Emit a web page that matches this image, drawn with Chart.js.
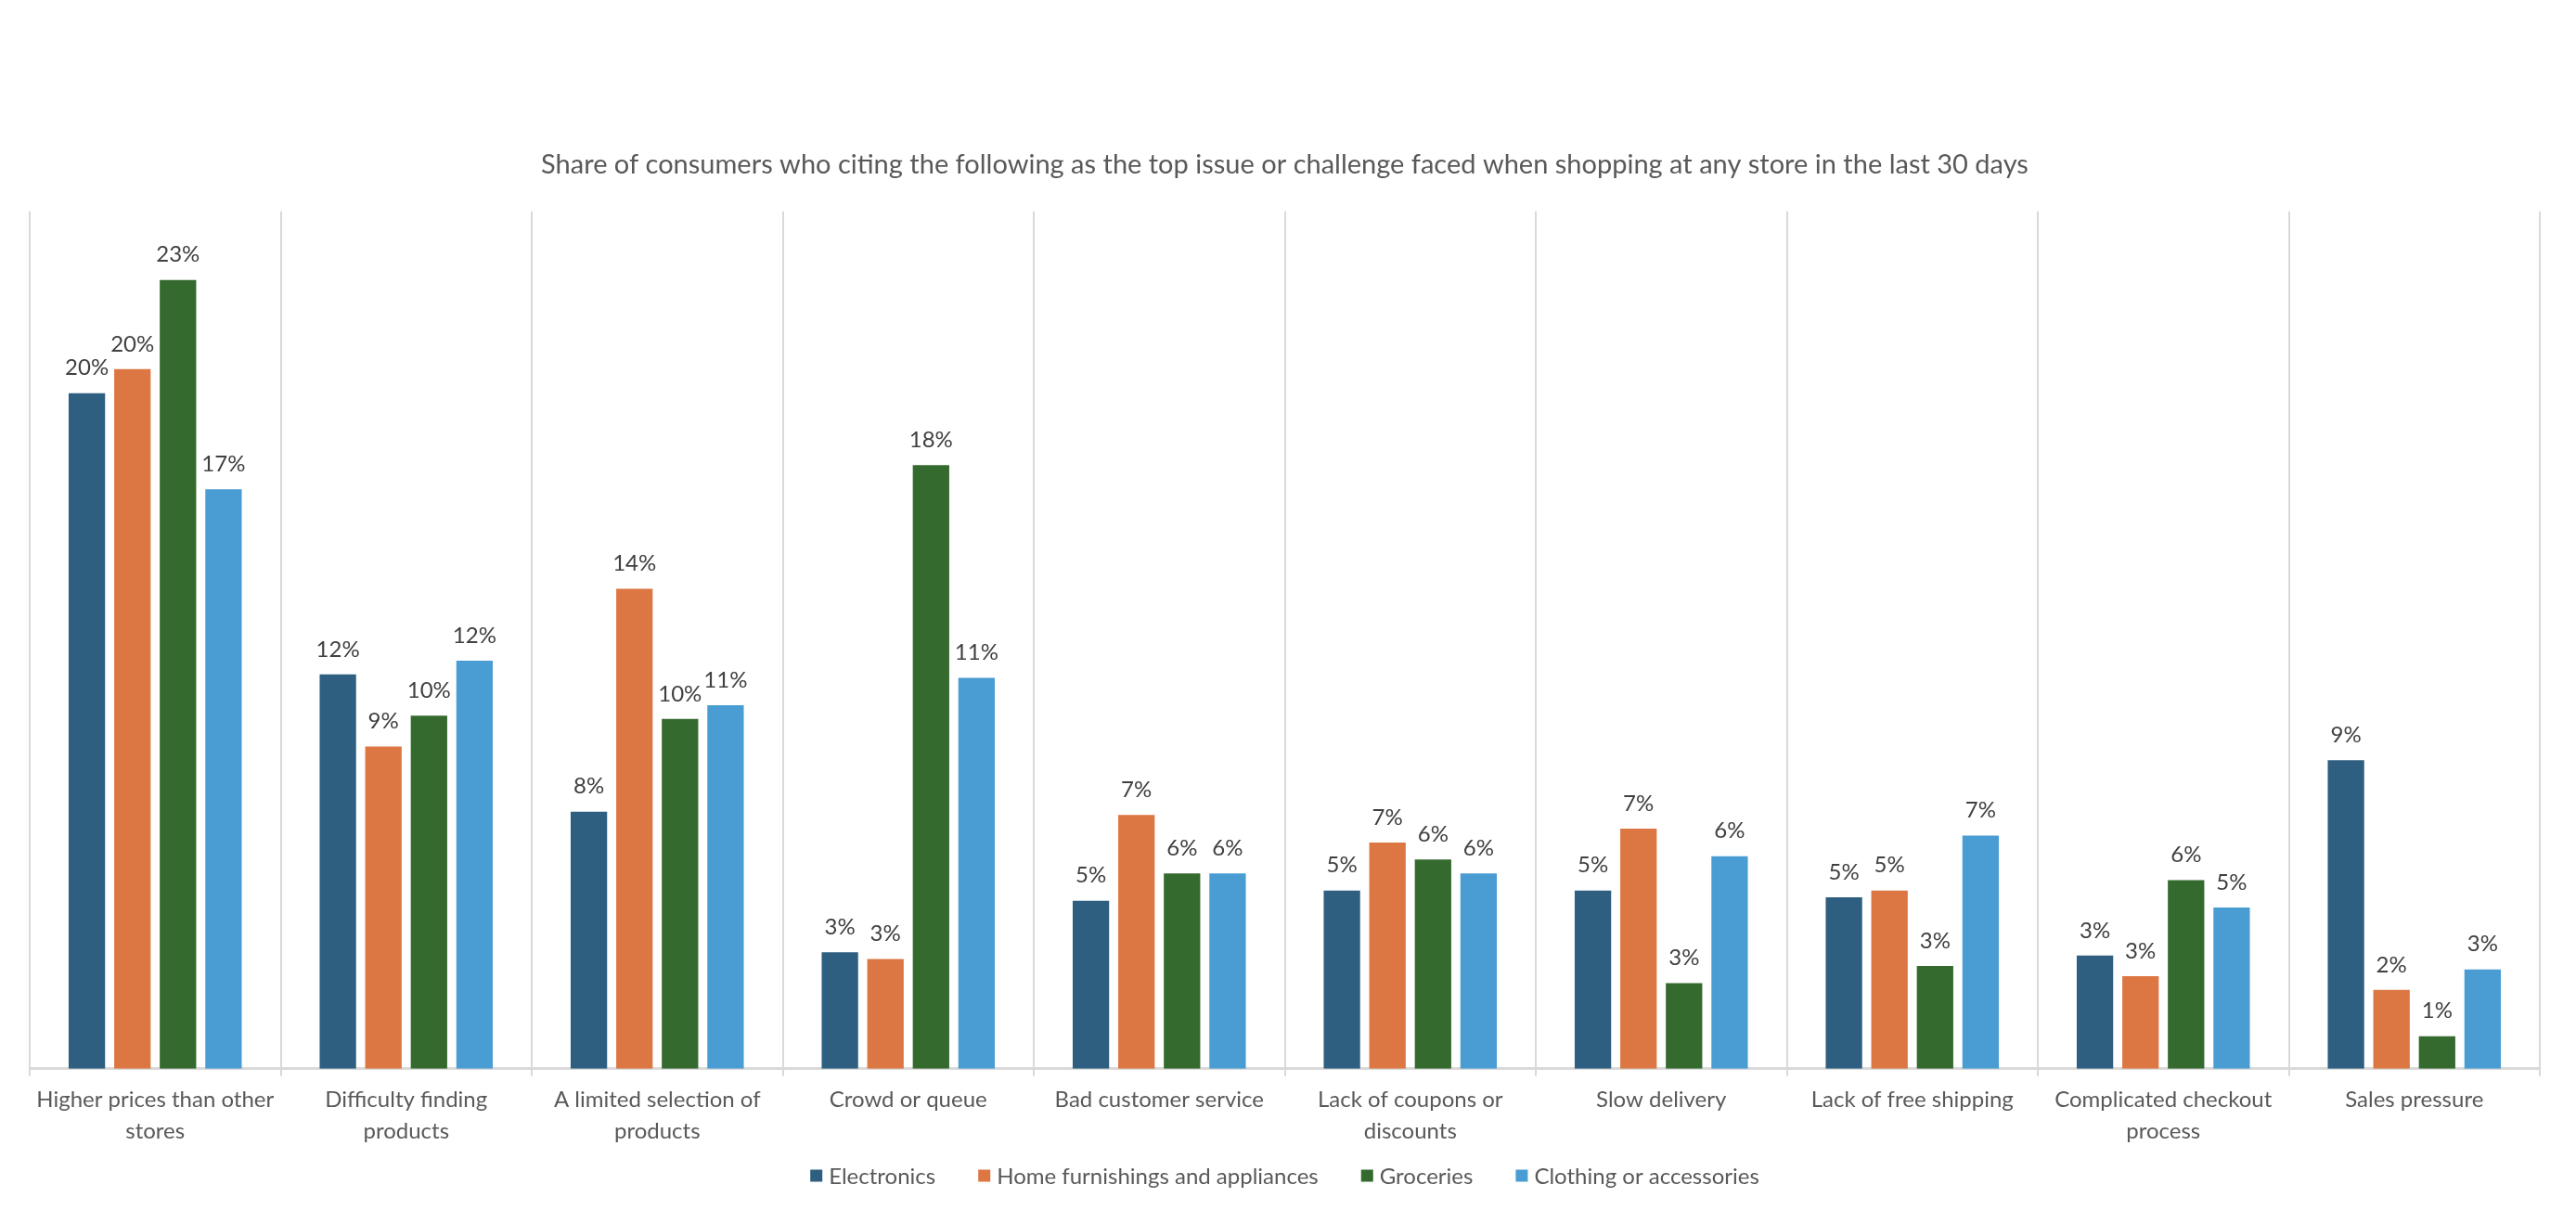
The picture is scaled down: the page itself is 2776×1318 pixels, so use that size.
<!DOCTYPE html>
<html>
<head>
<meta charset="utf-8">
<script src="https://cdn.jsdelivr.net/npm/chart.js@4.4.1/dist/chart.umd.min.js"></script>
<style>
  html, body { margin: 0; padding: 0; background: #ffffff; }
  #wrap { width: 2776px; height: 1318px; }
</style>
</head>
<body>
<div id="wrap"><canvas id="c" width="2776" height="1318"></canvas></div>
<script>
const titleText = "Share of consumers who citing the following as the top issue or challenge faced when shopping at any store in the last 30 days";

const categories = [
  ["Higher prices than other", "stores"],
  ["Difficulty finding", "products"],
  ["A limited selection of", "products"],
  "Crowd or queue",
  "Bad customer service",
  ["Lack of coupons or", "discounts"],
  "Slow delivery",
  "Lack of free shipping",
  ["Complicated checkout", "process"],
  "Sales pressure"
];

const seriesNames = ["Electronics", "Home furnishings and appliances", "Groceries", "Clothing or accessories"];

const electronics = [19.7, 11.5, 7.5, 3.4, 4.9, 5.2, 5.2, 5.0, 3.3, 9.0];
const homeFurnishings = [20.4, 9.4, 14.0, 3.2, 7.4, 6.6, 7.0, 5.2, 2.7, 2.3];
const groceries = [23.0, 10.3, 10.2, 17.6, 5.7, 6.1, 2.5, 3.0, 5.5, 0.95];
const clothing = [16.9, 11.9, 10.6, 11.4, 5.7, 5.7, 6.2, 6.8, 4.7, 2.9];

const seriesColors = ["#2e5f80", "#dc7743", "#356a2f", "#4a9dd3"];

const FONT = "Lato, 'Open Sans', sans-serif";

const dataLabelPlugin = {
  id: 'dataLabels',
  afterDatasetsDraw(chart) {
    const ctx = chart.ctx;
    ctx.save();
    ctx.font = "24px " + FONT;
    ctx.fillStyle = "#404040";
    ctx.textAlign = "center";
    ctx.textBaseline = "middle";
    chart.data.datasets.forEach((ds, i) => {
      const meta = chart.getDatasetMeta(i);
      meta.data.forEach((el, j) => {
        const v = ds.data[j];
        ctx.fillText(Math.round(v) + "%", el.x, el.y - 27);
      });
    });
    ctx.restore();
  }
};

// Legend row drawn below the category axis, centred on the plot area
const legendPlugin = {
  id: 'rowLegend',
  afterDraw(chart) {
    const ctx = chart.ctx;
    const box = 13, gapText = 7, gapItem = 46;
    ctx.save();
    ctx.font = "24px " + FONT;
    ctx.textBaseline = "middle";
    ctx.textAlign = "left";
    const items = chart.data.datasets.map(ds => ({
      text: ds.label, color: ds.backgroundColor, w: ctx.measureText(ds.label).width
    }));
    let total = 0;
    items.forEach((it, i) => { total += box + gapText + it.w + (i < items.length - 1 ? gapItem : 0); });
    const area = chart.chartArea;
    let x = (area.left + area.right) / 2 - total / 2;
    const y = chart.scales.x.bottom + 23;
    items.forEach(it => {
      ctx.fillStyle = it.color;
      ctx.fillRect(x, y - box / 2, box, box);
      x += box + gapText;
      ctx.fillStyle = "#595959";
      ctx.fillText(it.text, x, y + 1);
      x += it.w + gapItem;
    });
    ctx.restore();
  }
};

const bgPlugin = {
  id: 'bg',
  beforeDraw(chart) {
    const ctx = chart.ctx;
    ctx.save();
    ctx.fillStyle = "#ffffff";
    ctx.fillRect(0, 0, chart.width, chart.height);
    ctx.restore();
  }
};

const allSeries = [electronics, homeFurnishings, groceries, clothing];

new Chart(document.getElementById('c'), {
  type: 'bar',
  data: {
    labels: categories,
    datasets: allSeries.map((d, i) => ({
      label: seriesNames[i],
      data: d,
      backgroundColor: seriesColors[i],
      borderWidth: 0,
      categoryPercentage: 0.726,
      barPercentage: 0.8
    }))
  },
  options: {
    responsive: false,
    devicePixelRatio: 1,
    animation: false,
    layout: { padding: { left: 32, right: 39, top: 0, bottom: 74 } },
    plugins: {
      title: {
        display: true,
        text: titleText,
        color: "#595959",
        font: { family: FONT, size: 29, weight: 'normal' },
        padding: { top: 160, bottom: 33 }
      },
      legend: { display: false },
      tooltip: { enabled: false }
    },
    scales: {
      x: {
        offset: true,
        grid: {
          display: true,
          offset: true,
          color: "#d9d9d9",
          lineWidth: 2,
          drawTicks: true,
          tickLength: 8
        },
        border: { display: true, color: "#d9d9d9", width: 3 },
        ticks: {
          color: "#595959",
          font: { family: FONT, size: 24, lineHeight: 1.42 },
          padding: 8,
          maxRotation: 0,
          autoSkip: false
        }
      },
      y: {
        display: false,
        min: 0,
        max: 25
      }
    }
  },
  plugins: [bgPlugin, dataLabelPlugin, legendPlugin]
});
</script>
</body>
</html>
